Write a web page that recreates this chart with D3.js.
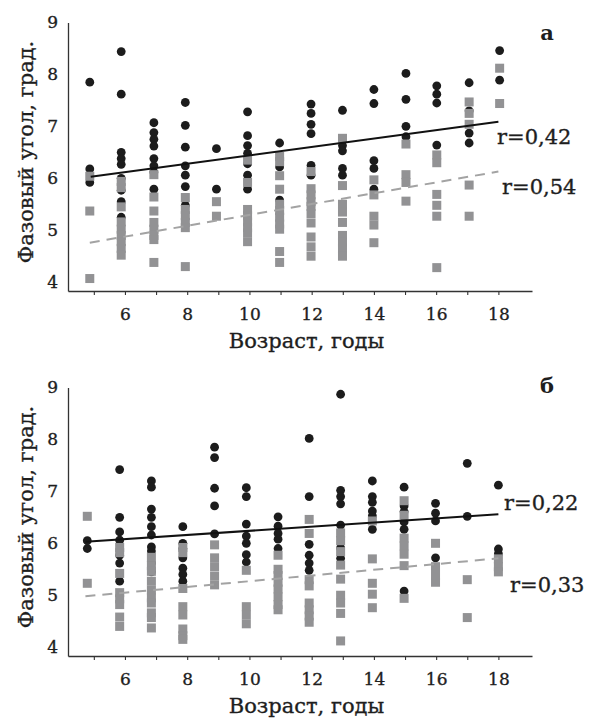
<!DOCTYPE html>
<html><head><meta charset="utf-8">
<script src="https://cdn.jsdelivr.net/npm/d3@7"></script>
<style>
body{margin:0;background:#fff;}
svg{display:block;font-family:"DejaVu Serif",serif;}
</style></head>
<body><svg id="chart" width="589" height="718"></svg>
<script>
// ---- data ----
const ageTicks = [5,6,7,8,9,10,11,12,13,14,15,16,17,18];
const ageLabels = [6,8,10,12,14,16,18];
const yTicks = [4,5,6,7,8,9];

// x position (in years) of each column of points, as placed in the picture
const colAgeA = [4.87,5.88,6.93,7.94,8.94,9.94,10.97,11.98,12.99,14.0,15.03,16.02,17.06,18.04];
const colAgeB = [4.79,5.83,6.85,7.86,8.88,9.9,10.92,11.92,12.93,13.95,14.97,15.98,17.0,18.0];

// panel а — black circles (one list per age column)
const circlesA = [
  [7.85,6.18,5.92],
  [8.44,7.62,6.5,6.38,6.27,6.0,5.77,5.55,5.25],
  [7.07,6.88,6.75,6.62,6.38,6.24,6.12,5.79],
  [7.46,7.02,6.6,6.24,6.06,5.84,5.48],
  [6.57,5.79],
  [7.28,6.82,6.63,6.48,6.28,6.06,5.79],
  [6.68,6.22,5.58],
  [7.43,7.25,7.04,6.86,6.25,6.06],
  [7.31,6.63,6.53,6.19,6.06],
  [7.71,7.44,6.34,6.19,5.79],
  [8.02,7.52,7.0,6.8],
  [7.78,7.62,7.45,6.64],
  [7.84,7.3,6.87,6.68],
  [8.46,7.89]
];
// panel а — grey squares
const squaresA = [
  [6.04,5.37,4.07],
  [5.94,5.82,5.45,5.16,5.02,4.9,4.78,4.65,4.52],
  [6.07,5.64,5.37,5.15,5.02,4.9,4.82,4.38],
  [5.63,5.4,5.28,5.15,5.05,4.3],
  [5.55,5.27],
  [6.35,5.92,5.4,5.28,5.16,5.05,4.95,4.78],
  [6.42,6.32,6.05,5.79,5.5,5.38,5.25,5.12,5.02,4.59,4.38],
  [6.13,5.8,5.68,5.55,5.46,5.32,5.14,4.87,4.68,4.5],
  [6.77,5.86,5.5,5.35,5.15,4.9,4.77,4.65,4.5],
  [5.97,5.68,5.27,5.1,4.76],
  [6.66,6.07,5.92,5.56],
  [6.45,6.3,5.69,5.48,5.27,4.28],
  [7.47,7.25,7.04,5.87,5.27],
  [8.12,7.44]
];
// panel б — black circles
const circlesB = [
  [6.05,5.9],
  [7.42,6.5,6.22,6.06,5.77,5.62,5.27],
  [7.2,7.08,6.66,6.5,6.32,6.16,5.93,5.85,5.62,5.45],
  [6.32,6.0,5.9,5.72,5.52,5.4,5.27],
  [7.85,7.65,7.06,6.72,6.18],
  [7.07,6.9,6.37,6.14,6.0,5.78,5.64],
  [6.51,6.33,6.19,6.08,5.9],
  [8.02,6.9,5.98,5.77,5.62,5.48],
  [8.87,7.02,6.9,6.76,6.35,5.91,5.71],
  [7.2,6.9,6.79,6.62,6.53,6.27],
  [7.08,6.72,6.61,6.41,6.27,5.08],
  [6.77,6.58,6.43,5.72],
  [7.54,6.52],
  [7.12,5.89,5.8]
];
// panel б — grey squares
const squaresB = [
  [6.52,5.23],
  [5.92,5.82,5.42,5.05,4.93,4.82,4.58,4.4],
  [5.73,5.57,5.46,5.27,5.1,4.95,4.85,4.66,4.57,4.37],
  [5.92,5.82,5.13,4.78,4.62,4.35,4.22,4.15],
  [5.97,5.72,5.55,5.37,5.2],
  [5.48,4.78,4.62,4.45],
  [5.77,5.5,5.38,5.25,5.12,4.97,4.82,4.72],
  [6.46,6.19,5.3,5.18,4.85,4.72,4.6,4.48],
  [6.2,6.05,5.84,5.58,5.31,5.0,4.85,4.65,4.12],
  [6.43,5.7,5.23,5.02,4.76],
  [6.82,6.54,6.1,5.95,5.79,5.57,4.94],
  [6.0,5.55,5.38,5.25],
  [5.3,4.57],
  [5.7,5.55,5.45]
];
// regression lines: [age, value] end points
const fitBlackA = [[4.9,6.03],[18.0,7.09]];
const fitGreyA  = [[4.87,4.76],[18.0,6.13]];
const fitBlackB = [[4.73,6.03],[18.0,6.56]];
const fitGreyB  = [[4.73,4.98],[18.0,5.71]];
const rLabelsA = ["r=0,42","r=0,54"];
const rLabelsB = ["r=0,22","r=0,33"];
const panelLetters = ["а","б"];
const yTitle = "Фазовый угол, град.";
const xTitle = "Возраст, годы";

// ---- drawing ----
const svg = d3.select("#chart");
const x = d3.scaleLinear().domain([4.17,19.08]).range([68,532]);
const ink = "#1c1c1c", grey = "#929294", dashGrey = "#a3a3a3", txt = "#1e1e1e";

const panels = [
  {off:0, colAge:colAgeA, circles:circlesA, squares:squaresA, black:fitBlackA, greyFit:fitGreyA,
   r:rLabelsA, rPos:[[497,143.5],[502,193.5]], letter:panelLetters[0], letterY:40},
  {off:365, colAge:colAgeB, circles:circlesB, squares:squaresB, black:fitBlackB, greyFit:fitGreyB,
   r:rLabelsB, rPos:[[504,510],[510,591.5]], letter:panelLetters[1], letterY:393}
];

function heavy(sel){ return sel.attr("fill",txt).attr("stroke",txt).attr("stroke-width",0.35); }

panels.forEach(p => {
  const y = d3.scaleLinear().domain([3.83,9]).range([291+p.off, 22.5+p.off]);
  const g = svg.append("g");

  // x axis
  const xa = g.append("g").attr("transform",`translate(0,${291+p.off})`)
    .call(d3.axisBottom(x).tickValues(ageTicks).tickSize(4).tickSizeOuter(0).tickPadding(13)
      .tickFormat(d => ageLabels.includes(d) ? d : ""));
  xa.select(".domain").attr("stroke","#333").attr("stroke-width",1.3);
  xa.selectAll(".tick line").attr("stroke","#333").attr("stroke-width",1.1);
  heavy(xa.selectAll("text").attr("font-size",17).attr("font-family","DejaVu Serif"));

  // y axis
  const ya = g.append("g").attr("transform","translate(68,0)")
    .call(d3.axisLeft(y).tickValues(yTicks).tickSize(0).tickSizeOuter(0).tickPadding(10).tickFormat(d3.format("d")));
  ya.select(".domain").attr("stroke","#333").attr("stroke-width",1.3);
  heavy(ya.selectAll("text").attr("font-size",17).attr("font-family","DejaVu Serif"));

  // points: circles then squares
  const circ = [], sq = [];
  p.colAge.forEach((a,i) => {
    p.circles[i].forEach(v => circ.push([a,v]));
    p.squares[i].forEach(v => sq.push([a,v]));
  });
  g.append("g").selectAll("circle").data(circ).join("circle")
    .attr("cx",d=>x(d[0])).attr("cy",d=>y(d[1])).attr("r",4.4).attr("fill",ink);
  const s = 9;
  g.append("g").selectAll("rect").data(sq).join("rect")
    .attr("x",d=>x(d[0])-s/2).attr("y",d=>y(d[1])-s/2).attr("width",s).attr("height",s).attr("fill",grey);

  // regression lines
  const line = d3.line().x(d=>x(d[0])).y(d=>y(d[1]));
  g.append("path").attr("d",line(p.greyFit)).attr("fill","none").attr("stroke",dashGrey)
    .attr("stroke-width",2).attr("stroke-dasharray","10,7");
  g.append("path").attr("d",line(p.black)).attr("fill","none").attr("stroke","#111").attr("stroke-width",2);

  // r labels
  p.r.forEach((t,i) => heavy(g.append("text").attr("x",p.rPos[i][0]).attr("y",p.rPos[i][1])
    .attr("font-size",21)).text(t));

  // panel letter
  g.append("text").attr("x",547).attr("y",p.letterY).attr("text-anchor","middle")
    .attr("font-size",21).attr("font-weight","bold").attr("fill",txt).text(p.letter);

  // titles
  heavy(g.append("text").attr("transform",`translate(33,${152+p.off}) rotate(-90)`).attr("text-anchor","middle")
    .attr("font-size",21)).text(yTitle);
  heavy(g.append("text").attr("x",306.5).attr("y",348+p.off).attr("text-anchor","middle")
    .attr("font-size",21)).text(xTitle);
});
</script></body></html>
